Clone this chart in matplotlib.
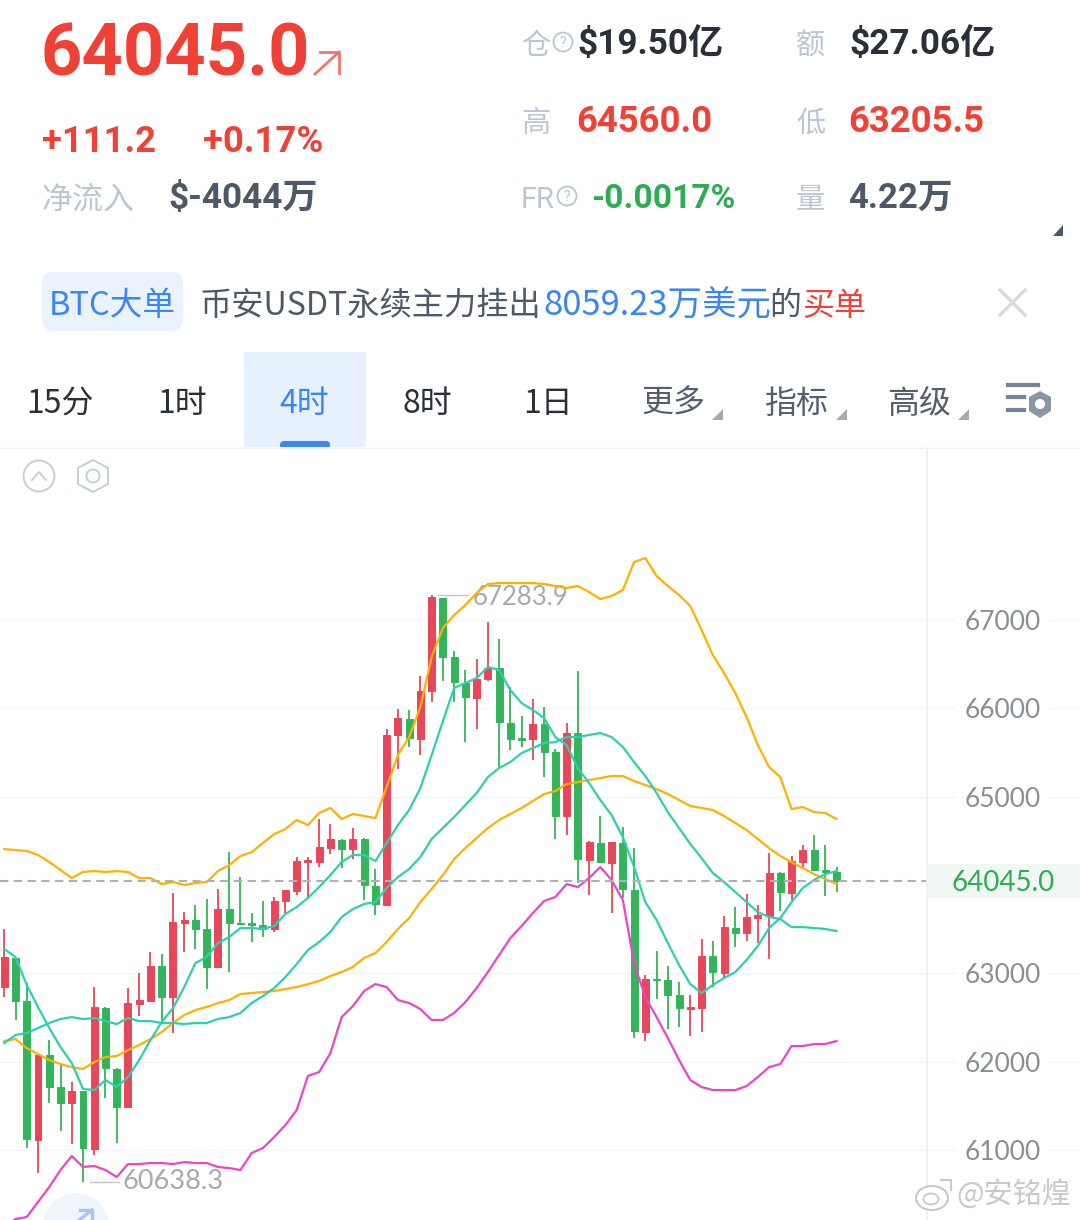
import matplotlib
matplotlib.use("Agg")
import matplotlib.pyplot as plt
from matplotlib.patches import Circle, Ellipse, FancyBboxPatch, Polygon, Rectangle

# candles
opens = [62845, 63174, 62687, 61113, 62075, 61713, 61532, 61668, 61011, 62607,
         61917, 61487, 62653, 62687, 63083, 62732, 63570, 63604, 63502, 63072,
         63728, 63570, 63570, 63547, 63502, 63819, 63932, 64260, 64260, 64419,
         64509, 64407, 64521, 63989, 63773, 65698, 65879, 65653, 66196, 67249,
         66581, 66286, 66117, 66332, 66456, 65834, 65664, 65653, 65822, 65505,
         64781, 65720, 64283, 64475, 64249, 64475, 63943, 62336, 62936, 62925,
         62755, 62596, 62607, 63196, 63004, 63513, 63456, 63626, 63649, 64136,
         63909, 64260, 64396, 64170, 64147]
highs = [63502, 63174, 62890, 62075, 62245, 61962, 61770, 61668, 62845, 62619,
         61928, 62834, 63004, 63241, 63219, 63909, 63694, 63773, 63841, 63955,
         64373, 64090, 63683, 63819, 63864, 63943, 64317, 64317, 64747, 64690,
         64521, 64645, 64532, 64181, 65766, 65992, 65981, 66366, 67283, 67249,
         66649, 66434, 66558, 66977, 66785, 66241, 65913, 66105, 66015, 65539,
         65834, 66422, 64498, 64781, 64487, 64656, 64419, 62981, 63253, 63083,
         62902, 62755, 63389, 63366, 63649, 63751, 63898, 63773, 64362, 64147,
         64328, 64453, 64566, 64453, 64204]
lows = [62732, 62472, 61023, 60740, 61532, 61215, 61068, 60638, 60943, 61589,
        61079, 61487, 62517, 62687, 62449, 62324, 63241, 63275, 62823, 63072,
        63015, 63547, 63355, 63411, 63468, 63683, 63887, 63864, 64204, 64351,
        64192, 64294, 63830, 63660, 63773, 65313, 65562, 65471, 66071, 66309,
        66071, 65619, 65766, 66309, 65336, 65528, 65562, 65415, 65222, 64521,
        64566, 64022, 63887, 64249, 63683, 63853, 62268, 62234, 62709, 62370,
        62392, 62290, 62336, 62845, 62947, 63298, 63366, 63343, 63162, 63705,
        63830, 64192, 64170, 63875, 63921]
closes = [63185, 62687, 61125, 62075, 61713, 61532, 61668, 61023, 62619, 61928,
          61487, 62664, 62698, 63083, 62732, 63581, 63604, 63502, 63072, 63728,
          63570, 63559, 63547, 63502, 63819, 63943, 64271, 64283, 64430, 64521,
          64407, 64521, 64000, 63785, 65698, 65890, 65664, 66196, 67260, 66581,
          66298, 66128, 66332, 66456, 65845, 65653, 65641, 65822, 65505, 64781,
          65720, 64294, 64487, 64260, 64487, 63955, 62347, 62936, 62925, 62755,
          62607, 62619, 63196, 63015, 63524, 63456, 63638, 63660, 64136, 63921,
          64271, 64396, 64170, 64147, 64045]

# indicator lines, one value per candle
ma_fast = [63275, 63185, 62868, 62619, 62381, 62166, 61985, 61691, 61679, 61792,
           61713, 61826, 62019, 62245, 62449, 62607, 62845, 63117, 63185, 63343,
           63411, 63513, 63513, 63502, 63536, 63672, 63751, 63853, 63977, 64113,
           64260, 64340, 64340, 64271, 64475, 64679, 64849, 65098, 65471, 65856,
           66230, 66286, 66343, 66468, 66434, 66207, 66060, 65981, 65890, 65675,
           65585, 65324, 65154, 64962, 64792, 64543, 64204, 63807, 63604, 63343,
           63094, 62879, 62777, 62868, 62947, 63015, 63151, 63309, 63513, 63626,
           63807, 63966, 64056, 64124, 64158]
ma_slow = [62211, 62302, 62324, 62381, 62438, 62483, 62505, 62483, 62494, 62460,
           62426, 62494, 62460, 62460, 62438, 62438, 62426, 62438, 62438, 62483,
           62505, 62551, 62664, 62743, 62834, 62958, 63105, 63264, 63355, 63468,
           63638, 63728, 63785, 63807, 63966, 64090, 64181, 64317, 64521, 64645,
           64770, 64905, 65041, 65222, 65324, 65392, 65494, 65550, 65607, 65618,
           65675, 65675, 65698, 65720, 65675, 65562, 65392, 65234, 65041, 64826,
           64645, 64464, 64305, 64136, 64034, 63921, 63807, 63694, 63638, 63615,
           63524, 63524, 63513, 63502, 63479]
boll_upper = [64407, 64396, 64385, 64340, 64260, 64170, 64079, 64147, 64158, 64147,
              64158, 64147, 64079, 64079, 64011, 64034, 64000, 64022, 64034, 64158,
              64226, 64328, 64373, 64475, 64577, 64634, 64736, 64679, 64815, 64872,
              64747, 64804, 64781, 64758, 65109, 65471, 65675, 66015, 66581, 66909,
              67056, 67170, 67305, 67407, 67418, 67418, 67418, 67418, 67407, 67385,
              67362, 67385, 67316, 67237, 67271, 67339, 67656, 67701, 67498, 67385,
              67283, 67158, 66887, 66604, 66400, 66173, 65902, 65585, 65336, 65222,
              64860, 64883, 64826, 64815, 64747]
boll_mid = [62234, 62256, 62154, 62086, 62019, 61973, 61939, 61917, 61996, 62053,
            62064, 62132, 62189, 62256, 62336, 62438, 62528, 62585, 62619, 62664,
            62698, 62766, 62777, 62789, 62800, 62823, 62845, 62879, 62913, 62970,
            63015, 63072, 63174, 63230, 63355, 63502, 63626, 63807, 63955, 64113,
            64294, 64419, 64532, 64645, 64736, 64804, 64872, 64951, 65030, 65064,
            65143, 65166, 65188, 65211, 65234, 65234, 65177, 65132, 65086, 65030,
            64962, 64894, 64872, 64849, 64781, 64702, 64622, 64521, 64419, 64328,
            64260, 64192, 64124, 64068, 64011]
boll_lower = [60117, 60219, 60242, 60412, 60582, 60774, 60932, 60808, 60819, 60774,
              60694, 60841, 60841, 60853, 60853, 60841, 60864, 60853, 60853, 60808,
              60796, 60774, 60966, 61023, 61147, 61283, 61453, 61838, 61883, 62098,
              62505, 62630, 62800, 62879, 62845, 62698, 62664, 62596, 62472, 62472,
              62551, 62675, 62834, 63015, 63207, 63400, 63536, 63683, 63819, 63864,
              64011, 63977, 64079, 64204, 64056, 63830, 63117, 62732, 62505, 62268,
              62019, 61792, 61713, 61679, 61679, 61679, 61724, 61826, 61939, 61973,
              62177, 62177, 62200, 62200, 62234]

# 64000 is not labelled in the reference, the last price sits there
price_ticks = [61000, 62000, 63000, 65000, 66000, 67000]
last_price = 64045.0
max_price = 67283.9
min_price = 60638.3
tabs = ["15分", "1时", "4时", "8时", "1日", "更多", "指标", "高级"]

RED = "#ef4135"
CANDLE_RED = "#e8465a"
CANDLE_GREEN = "#34b45a"
GREEN = "#2dad53"
ORANGE = "#ffb000"
TEAL = "#2dd0ae"
PINK = "#ee44c8"
BLUE = "#3b85f5"
DARK = "#2b2f38"
SLATE = "#4e5866"
PALE = "#bcc6d1"
FONTS = ["Roboto", "Noto Sans CJK SC"]
CJK = ["Noto Sans CJK SC", "Roboto"]
NUMS = ["Lato", "DejaVu Sans"]

fig = plt.figure(figsize=(10.8, 12.2), dpi=100, facecolor="white")

ax = fig.add_axes([0, 0, 1, 772 / 1220])
ax.set_xlim(-0.38, 95.65)
ax.set_ylim(60208, 68947)
ax.patch.set_alpha(0)
for s in ax.spines.values():
    s.set_visible(False)
ax.set_xticks([])
ax.yaxis.tick_right()
ax.set_yticks(price_ticks)
ax.set_yticklabels([str(t) for t in price_ticks], family=NUMS, fontsize=19, color="#8a8f96",
                   bbox=dict(facecolor="white", edgecolor="none", pad=6))
ax.tick_params(axis="y", length=0, pad=-83)
ax.grid(axis="y", color="#f1f6fb", lw=1)
ax.set_axisbelow(True)

xs = list(range(len(opens)))
colors = [CANDLE_RED if c >= o else CANDLE_GREEN for o, c in zip(opens, closes)]
ax.vlines(xs, lows, highs, colors=colors, lw=1.3, zorder=2)
ax.bar(xs, [abs(c - o) for o, c in zip(opens, closes)], bottom=[min(o, c) for o, c in zip(opens, closes)],
       width=0.62, color=colors, edgecolor=colors, lw=0.7, zorder=3)

ax.plot(xs, boll_upper, color=ORANGE, lw=1.6, zorder=4)
ax.plot(xs, boll_mid, color=ORANGE, lw=1.6, zorder=4)
ax.plot(xs, boll_lower, color=PINK, lw=1.6, zorder=4)
ax.plot(xs, ma_slow, color=TEAL, lw=1.6, zorder=4)
ax.plot(xs, ma_fast, color=TEAL, lw=1.6, zorder=4)

ax.plot([-0.38, 81.96], [last_price, last_price], color="#b0b0b0", lw=1.5, ls=(0, (4, 2.6)), zorder=5)

# high / low markers
ax.plot([38.6, 41.2], [max_price, max_price], color="#c4c4c4", lw=1, zorder=4)
ax.text(41.65, max_price - 30, f"{max_price}", family=NUMS, fontsize=18.5, color="#a9a9a9", va="center", zorder=3)
ax.plot([7.6, 10.2], [min_price, min_price], color="#c4c4c4", lw=1, zorder=4)
ax.text(10.55, min_price, f"{min_price}", family=NUMS, fontsize=19.5, color="#a9a9a9", va="center", zorder=3)

# everything around the chart, in pixels of the screenshot
ui = fig.add_axes([0, 0, 1, 1])
ui.set_xlim(0, 1080)
ui.set_ylim(1220, 0)
ui.axis("off")
ui.patch.set_alpha(0)


def label(x, y, s, color, size, bold=False, family=FONTS, ha="left"):
    ui.text(x, y, s, color=color, fontsize=size, family=family, ha=ha, va="baseline",
            fontweight="bold" if bold else "normal")


def help_icon(x, y):
    ui.add_patch(Circle((x, y), 9.5, fc="none", ec=PALE, lw=1.3))
    label(x, y + 5, "?", PALE, 10, ha="center")


# header
label(41, 75, "64045.0", RED, 52, True)
ui.plot([315, 339], [74, 52], color="#f2756c", lw=2)
ui.plot([320, 339, 339], [52, 52, 73], color="#f2756c", lw=2)
label(42, 152, "+111.2", RED, 26.3, True)
label(203, 152, "+0.17%", RED, 26.3, True)
label(42, 209, "净流入", PALE, 22.3, family=CJK)
label(168, 208, "$-4044万", SLATE, 25.3, True)

label(521, 54, "仓", PALE, 21, family=CJK)
help_icon(563, 42)
label(577, 54, "$19.50亿", DARK, 25.3, True)
label(796, 54, "额", PALE, 21, family=CJK)
label(849, 54, "$27.06亿", DARK, 25.3, True)
label(521, 132, "高", PALE, 21, family=CJK)
label(576, 132, "64560.0", RED, 26.3, True)
label(796, 132, "低", PALE, 21, family=CJK)
label(848, 132, "63205.5", RED, 26.3, True)
label(521, 208, "FR", PALE, 21)
help_icon(567, 196)
label(591, 208, "-0.0017%", GREEN, 24.2, True)
label(796, 208, "量", PALE, 21, family=CJK)
label(848, 208, "4.22万", SLATE, 25, True)
ui.add_patch(Polygon([[1053, 236], [1063, 236], [1063, 225]], fc=SLATE, ec="none"))

# order banner
ui.add_patch(FancyBboxPatch((50, 280), 125, 43, boxstyle="round,pad=8,rounding_size=12", fc="#e9f2fd", ec="none"))
label(49, 315, "BTC大单", BLUE, 23.5, family=CJK)
label(200, 315, "币安USDT永续主力挂出", SLATE, 23.2, family=CJK)
label(543, 315, "8059.23万美元", BLUE, 24.8, family=CJK)
label(769, 315, "的", SLATE, 23, family=CJK)
label(802, 315, "买单", RED, 23, family=CJK)
ui.plot([1000, 1025], [290, 315], color="#d5dae0", lw=2.4)
ui.plot([1000, 1025], [315, 290], color="#d5dae0", lw=2.4)

# period tabs
ui.add_patch(Rectangle((244, 352), 122, 95, fc="#e6f1fd", ec="none"))
ui.add_patch(FancyBboxPatch((284, 445), 42, 6, boxstyle="round,pad=4,rounding_size=4", fc=BLUE, ec="none"))
ui.add_patch(Rectangle((0, 447), 1080, 12, fc="white", ec="none", zorder=1.5))
tab_x = [60, 182, 304, 427, 548, 673, 796, 919]
for i, (x, t) in enumerate(zip(tab_x, tabs)):
    c = BLUE if i == 2 else (DARK if i < 5 else "#555e6b")
    label(x, 413, t, c, 23, family=CJK, ha="center")
for x in [712, 836, 958]:
    ui.add_patch(Polygon([[x, 420], [x + 11, 420], [x + 11, 409]], fc="#aaaaaa", ec="none"))
for x0, x1, y in [(1008, 1038, 385), (1008, 1024, 397), (1008, 1024, 410)]:
    ui.plot([x0, x1], [y, y], color="#76849a", lw=3)
ui.add_patch(Polygon([[1040, 391], [1051, 397], [1051, 411], [1040, 418], [1029, 411], [1029, 397]], fc="#8a96a8", ec="none"))
ui.add_patch(Circle((1040, 404), 5, fc="white", ec="none"))
ui.plot([0, 1080], [447.5, 447.5], color="#eff0f2", lw=1, zorder=2)

# chart buttons
ui.add_patch(Circle((39, 476), 15.5, fc="none", ec="#c5cfda", lw=1.4))
ui.plot([32, 39, 46], [480, 472, 480], color="#c5cfda", lw=1.4)
ui.add_patch(Polygon([[93, 460], [108, 468], [108, 484], [93, 492], [78, 484], [78, 468]], fc="none", ec="#c5cfda", lw=1.4))
ui.add_patch(Circle((93, 476), 6.5, fc="none", ec="#c5cfda", lw=1.4))

# price axis divider and last price tag
ui.plot([926.5, 926.5], [448, 1220], color="#eff0f2", lw=1.2)
ui.add_patch(Rectangle((927, 864), 153, 34, fc="#f1f8f4", ec="none", zorder=3))
ui.text(1003, 883, f"{last_price}", family=NUMS, fontsize=20, color=GREEN, ha="center", va="center", zorder=4)

# back-to-latest button, cut by the bottom edge
ui.add_patch(Circle((76, 1226), 33, fc="#f1f5fc", ec="none"))
ui.plot([78, 92], [1221, 1210], color="#a9c4ef", lw=2.4)
ui.plot([80, 92, 92], [1210, 1210, 1220], color="#a9c4ef", lw=2.4)

# watermark
ui.add_patch(Ellipse((932, 1198), 32, 24, fc="white", ec="#c9c9c9", lw=1.5, zorder=6))
ui.add_patch(Ellipse((931, 1199), 15, 11, fc="none", ec="#c9c9c9", lw=1.3, zorder=6))
ui.plot([941, 951, 951], [1180, 1180, 1190], color="#c9c9c9", lw=1.5, zorder=6)
ui.text(956, 1204, "@安铭煌", color="#c9c9c9", fontsize=21, family=CJK, ha="left", va="baseline", zorder=6)

fig.savefig("out.png", dpi=100)
